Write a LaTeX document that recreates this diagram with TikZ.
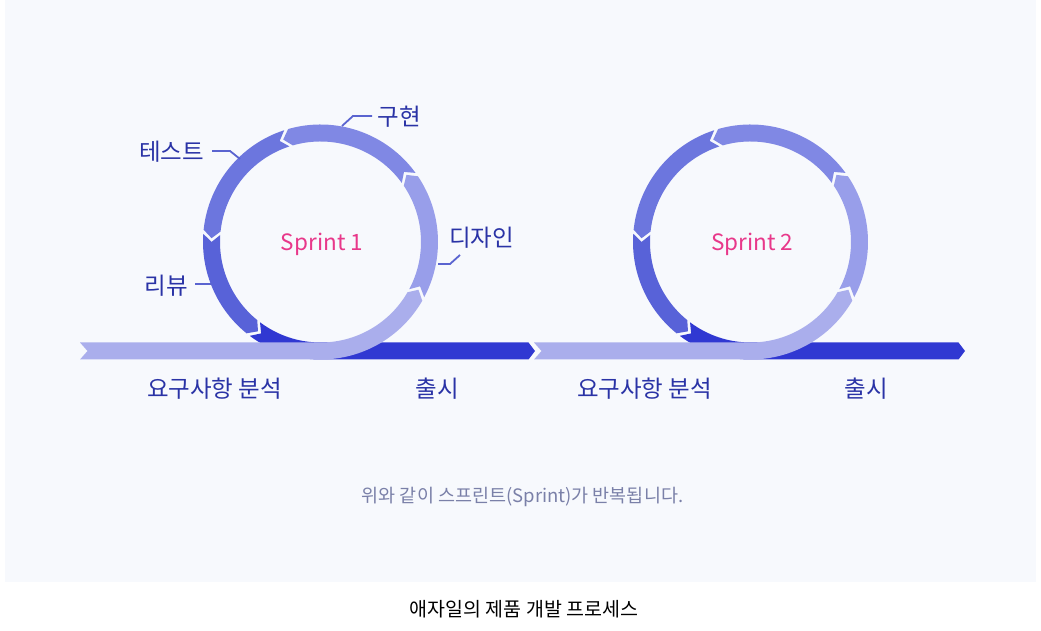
\documentclass[tikz,border=0pt]{standalone}
\usepackage{fontspec}
\setmainfont{Noto Sans CJK KR}
\definecolor{bgc}{HTML}{F7F9FD}
\definecolor{cA}{HTML}{AAAEEC}
\definecolor{cB}{HTML}{989EEA}
\definecolor{cC}{HTML}{8088E4}
\definecolor{cD}{HTML}{6C76DE}
\definecolor{cE}{HTML}{5862D8}
\definecolor{cF}{HTML}{3038D2}
\definecolor{pinkc}{HTML}{E8388A}
\definecolor{lblc}{HTML}{2A33A6}
\definecolor{leadc}{HTML}{5A64D0}
\definecolor{capc}{HTML}{7A80A8}
\tikzset{
  lbl/.style={inner sep=0pt, text=lblc, font=\fontsize{23.5}{28}\selectfont},
  sprinttxt/.style={inner sep=0pt, text=pinkc, font=\fontsize{22.5}{26}\selectfont},
  leader/.style={draw=leadc, line width=1.8pt},
  captxt/.style={inner sep=0pt, text=capc, font=\fontsize{18.5}{22}\selectfont},
  titletxt/.style={inner sep=0pt, text=black, font=\fontsize{19.5}{23}\selectfont}
}
\newcommand\arcseg[3]{%
  \fill[#3] (#1:117.5) arc[start angle=#1,end angle=#2,radius=117.5]
    -- ({#2+4}:109) -- (#2:100.5)
    arc[start angle=#2,end angle=#1,radius=100.5]
    -- ({#1+4}:109) -- cycle;}
\newcommand\sprintloop[3]{%
  \begin{scope}[shift={(#1,389)}]
    % dark: arc + bar to the right
    \fill[cF] (233:117.5) arc[start angle=233,end angle=270,radius=117.5]
      -- (208,-117.5) -- (214.5,-109) -- (208,-100.5) -- (0,-100.5)
      arc[start angle=270,end angle=233,radius=100.5]
      -- (237:109) -- cycle;
    % light: bar from left + arc
    \fill[cA] (#2,-100.5) -- ({#2+7.5},-109) -- (#2,-117.5) -- (0,-117.5)
      arc[start angle=-90,end angle=-30,radius=117.5]
      -- (-26:109) -- (-30:100.5)
      arc[start angle=-30,end angle=-90,radius=100.5] -- cycle;
    \arcseg{-28}{34}{cB}
    \arcseg{36}{106}{cC}
    \arcseg{108}{174}{cD}
    \arcseg{176}{231}{cE}
    \node[sprinttxt] (#3) at (1.5,-2) {Sprint #3};
  \end{scope}}
\begin{document}
\begin{tikzpicture}[x=1pt,y=1pt]
\useasboundingbox (0,0) rectangle (1041,631);
\fill[white] (0,0) rectangle (1041,631);
\fill[bgc] (4.5,48.5) rectangle (1036,631);

\sprintloop{320.5}{-240.5}{1}
\sprintloop{750.5}{-216.5}{2}

% stage labels
\node[lbl] (impl) at (399,514.5) {구현};
\node[lbl] (test) at (171.5,479.5) {테스트};
\node[lbl] (design) at (481.5,393) {디자인};
\node[lbl] (review) at (166,345.5) {리뷰};

\draw[leader] ([shift={(-27,0.5)}]impl.center) -- ++(-19,0) -- ++(-11,-10);
\draw[leader] ([shift={(40.5,0.5)}]test.center) -- ++(18,0) -- ++(10,-8);
\draw[leader] ([shift={(-21.5,-17)}]design.center) -- ++(-10,-9) -- ++(-12,0);
\draw[leader] ([shift={(29,1.5)}]review.center) -- ++(17,0);

% bar labels
\node[lbl] (req1) at (214.5,242.5) {요구사항 분석};
\node[lbl] (rel1) at (437.5,242.5) {출시};
\node[lbl] (req2) at (644.5,242.5) {요구사항 분석};
\node[lbl] (rel2) at (866,242.5) {출시};

% captions
\node[captxt] (cap) at (522.5,134.5) {위와 같이 스프린트(Sprint)가 반복됩니다.};
\node[titletxt] (title) at (524,22) {애자일의 제품 개발 프로세스};
\end{tikzpicture}
\end{document}
